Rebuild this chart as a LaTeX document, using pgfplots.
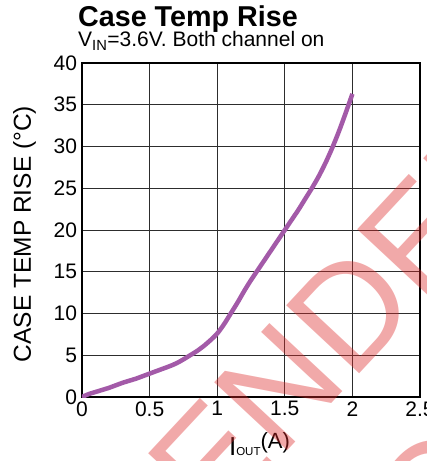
\documentclass[border=0pt]{standalone}
\usepackage{fontspec}
\setmainfont{Liberation Sans}
\usepackage{pgfplots}
\usepackage{pgfplotstable}
\pgfplotsset{compat=1.18}
\definecolor{curve}{RGB}{163,90,168}
\definecolor{gridc}{RGB}{45,45,45}
\definecolor{wm}{RGB}{220,40,40}
\pgfplotstableread{
x y
0 0
0.05 0.35
0.1 0.6
0.15 0.85
0.2 1.1
0.25 1.4
0.3 1.7
0.35 1.95
0.4 2.2
0.45 2.5
0.5 2.8
0.55 3.1
0.6 3.4
0.65 3.7
0.7 4.05
0.75 4.5
0.8 5.0
0.85 5.5
0.9 6.1
0.95 6.8
1.0 7.6
1.05 8.7
1.1 10.0
1.15 11.3
1.2 12.7
1.25 14.0
1.3 15.2
1.35 16.4
1.4 17.6
1.45 18.8
1.5 20.0
1.55 21.2
1.6 22.4
1.65 23.7
1.7 25.0
1.75 26.4
1.8 28.0
1.85 29.8
1.9 31.8
1.95 34.0
2.0 36.3
}\curvedata
\begin{document}
\begin{tikzpicture}
\useasboundingbox (-82pt,-64pt) rectangle (345pt,397pt);
\begin{axis}[
  at={(0,0)}, anchor=south west,
  width=338pt, height=334pt, scale only axis,
  xmin=0, xmax=2.5, ymin=0, ymax=40,
  xtick={0,0.5,1,1.5,2,2.5},
  ytick={0,5,10,15,20,25,30,35,40},
  grid=major,
  major grid style={gridc, line width=0.8pt},
  axis line style={line width=2pt, black},
  major tick length=0pt,
  tick label style={font=\fontsize{21}{21}\selectfont},
  /pgf/number format/assume math mode=true,
  yticklabel style={xshift=-1.5pt},
  xticklabel style={yshift=-1pt},
  xlabel={\raisebox{-7pt}{\fontsize{26}{26}\selectfont I\fontsize{11.5}{12}\selectfont OUT}\fontsize{22}{22}\selectfont(A)},
  xlabel style={at={(axis description cs:0.525,0)}, anchor=base, yshift=-51pt},
  ylabel={CASE TEMP RISE (°C)},
  ylabel style={font=\fontsize{24.5}{24.5}\selectfont, at={(axis description cs:-0.17,0.488)}, anchor=center},
]
\addplot[curve, line width=4.5pt, smooth] table[x=x, y=y] {\curvedata};
\end{axis}
\node[anchor=base west, inner sep=0, font=\bfseries\fontsize{28.7}{30}\selectfont] at (-4pt,370pt) {Case Temp Rise};
\node[anchor=base west, inner sep=0, font=\fontsize{21}{22}\selectfont] at (-4pt,350pt) {V\textsubscript{IN}=3.6V. Both channel on};
\node[rotate=47, anchor=base east, inner sep=0, font=\fontsize{145}{145}\selectfont, text=wm, text opacity=0.4] at (269pt,14pt) {RECOMMEN};
\node[rotate=47, anchor=base west, inner sep=0, font=\fontsize{145}{145}\selectfont, text=wm, text opacity=0.4] at (269pt,14pt) {DED};
\node[rotate=47, anchor=base west, inner sep=0, font=\fontsize{145}{145}\selectfont, text=wm, text opacity=0.4] at (351pt,-172pt) {O};
\end{tikzpicture}
\end{document}
